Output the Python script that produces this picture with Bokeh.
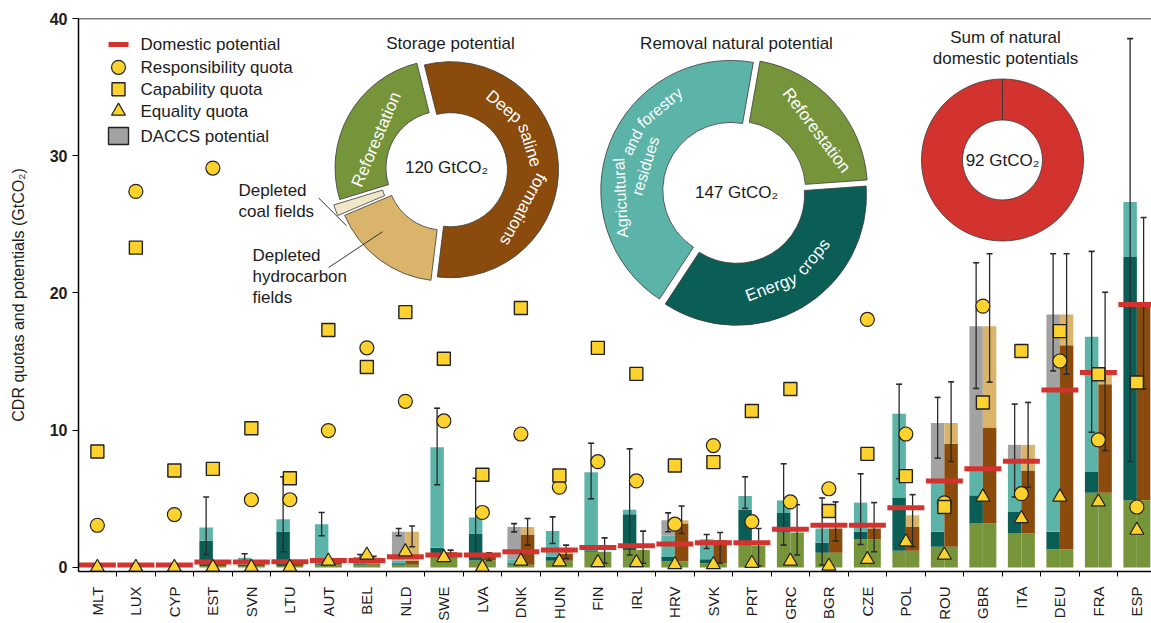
import math
import numpy as np
import pandas as pd
from bokeh.plotting import figure
from bokeh.models import ColumnDataSource, Range1d, FixedTicker, Span
from bokeh.core.properties import value
from bokeh.embed import file_html
from bokeh.resources import INLINE

nan = float("nan")

# ---------------- data ----------------
countries = ["MLT", "LUX", "CYP", "EST", "SVN", "LTU", "AUT", "BEL", "NLD", "SWE", "LVA", "DNK", "HUN", "FIN",
             "IRL", "HRV", "SVK", "PRT", "GRC", "BGR", "CZE", "POL", "ROU", "GBR", "ITA", "DEU", "FRA", "ESP"]

# removal bar (stacked)
reforestation = [0, 0, 0, 0.1, 0.1, 0.1, 0.2, 0.2, 0.2, 1.0, 0.5, 0.2, 0.49, 1.14, 1.26, 0.45, 0.3, 1.6, 2.54,
                 1.07, 2.05, 1.21, 1.5, 3.19, 2.47, 1.33, 5.44, 4.89]
energy_crops = [0, 0, 0, 1.85, 0.1, 2.5, 0.1, 0.1, 0.1, 0.43, 1.97, 0.1, 0.28, 0.1, 2.61, 0.3, 0.3, 2.6, 1.43,
                0.72, 0.54, 3.85, 1.09, 2.06, 1.57, 1.26, 1.55, 17.73]
residues = [0, 0, 0, 0.95, 0.5, 0.9, 2.84, 0.45, 0.2, 7.33, 1.16, 0.3, 1.89, 5.7, 0.33, 1.55, 1.45, 1.0, 0.91,
            1.04, 2.13, 6.14, 3.7, 1.93, 3.7, 10.33, 9.82, 4.01]
daccs = [0, 0, 0, 0, 0, 0, 0, 0, 2.1, 0, 0, 2.35, 0, 0, 0, 1.13, 0, 0, 0, 0, 0, 0, 4.23, 10.4, 1.19, 5.51, 0, 0]
# storage bar (stacked on top of reforestation)
saline = [0, 0, 0, 0.3, 0.3, 0.3, 0.35, 0.1, 0.3, 0.1, 0.3, 2.2, 0.5, 0, 0, 2.75, 1.68, 0, 0, 1.76, 0.78, 1.74,
          7.5, 7.01, 4.59, 14.85, 7.91, 14.27]
hydrocarbon = [0, 0, 0, 0, 0, 0, 0, 0.4, 2.1, 0, 0, 0.55, 0.3, 0, 0, 0.23, 0, 0, 0, 0, 0, 0.85, 1.52, 7.38, 1.87,
               2.25, 0.73, 0]

removal_err_low = [nan, nan, nan, 0.94, 0.5, 1.14, 2.3, 0.5, 2.3, 6.02, 1.0, 2.59, 1.74, 5.0, 0.9, 2.6, 1.38, 4.3,
                   1.62, 0.17, 1.67, 6.46, 7.96, 13.04, 5.13, 14.32, 9.85, 7.72]
removal_err_high = [nan, nan, nan, 5.13, 0.99, 6.6, 4.0, 0.94, 2.83, 11.6, 6.5, 3.19, 3.68, 9.05, 8.64, 3.97, 2.4,
                    6.6, 7.55, 5.06, 6.82, 13.35, 12.39, 22.2, 11.9, 22.86, 23.03, 38.53]
storage_err_low = [nan, nan, nan, nan, nan, nan, nan, 0.4, 1.5, 0.8, 0.5, 1.62, 0.65, 0.3, 0.3, 2.47, 0.3, 0.1,
                   0.9, 1.93, 1.14, 1.5, 7.72, 13.5, 5.85, 14.08, 8.51, 13.0]
storage_err_high = [nan, nan, nan, nan, nan, nan, nan, 0.8, 3.02, 1.26, 1.07, 3.56, 1.62, 2.15, 2.64, 4.47, 2.54,
                    2.83, 4.57, 4.77, 4.72, 5.3, 13.52, 22.86, 12.02, 22.86, 20.05, 25.5]

domestic = [0.17, 0.17, 0.17, 0.4, 0.4, 0.41, 0.5, 0.5, 0.77, 0.9, 0.9, 1.14, 1.26, 1.45, 1.57, 1.7, 1.8, 1.8,
            2.78, 3.07, 3.07, 4.35, 6.29, 7.18, 7.74, 12.92, 14.2, 19.16]
responsibility = [3.07, 27.4, 3.85, 29.1, 4.93, 4.93, 9.97, 16.0, 12.1, 10.67, 4.0, 9.72, 5.85, 7.7, 6.3, 3.15,
                  8.88, 3.33, 4.77, 5.73, 18.07, 9.72, 4.7, 19.04, 5.37, 15.04, 9.29, 4.4]
capability = [8.44, 23.3, 7.06, 7.18, 10.14, 6.5, 17.3, 14.6, 18.6, 15.2, 6.75, 18.9, 6.7, 16.0, 14.1, 7.43, 7.67,
              11.4, 13.0, 4.11, 8.27, 6.65, 4.4, 12.02, 15.77, 17.22, 14.08, 13.47]
equality = [0, 0, 0, 0, 0, 0, 0.46, 0.9, 1.14, 0.72, 0, 0.46, 0.41, 0.35, 0.35, 0.2, 0.2, 0.3, 0.46, 0.1, 0.58,
            1.86, 0.9, 5.13, 3.56, 5.13, 4.77, 2.71]

storage_slices = ["Deep saline formations", "Depleted hydrocarbon fields", "Depleted coal fields", "Reforestation"]
storage_values = [67, 20, 2, 31]
storage_total = 120
removal_slices = ["Reforestation", "Energy crops", "Agricultural and forestry residues"]
removal_values = [31, 52, 64]
removal_total = 147
domestic_total = [92]

legend_labels = ["Domestic potential", "Responsibility quota", "Capability quota", "Equality quota",
                 "DACCS potential"]

# ---------------- styles ----------------
GREEN = "#76953b"
DTEAL = "#0b5e55"
LTEAL = "#5cb3a8"
GREY = "#a2a2a2"
BROWN = "#8a4b0d"
TAN = "#d9b46a"
COAL = "#f0e7c8"
RED = "#d3332f"
YELLOW = "#fdd22c"
INK = "#1c1c1c"
EDGE = "#222222"
FONT = "Liberation Sans"

W, H = 1151, 623
LEFT, TOP, BOTTOM = 78, 18, 50
FW, FH = W - LEFT, H - TOP - BOTTOM
X0, X1 = -0.49, 27.38
Y0, Y1 = -0.3, 40.0
XS = FW / (X1 - X0)
YS = FH / (Y1 - Y0)


def dx(px):
    return X0 + (px - LEFT) / XS


def dy(py):
    return Y1 - (py - TOP) / YS


p = figure(width=W, height=H, x_range=Range1d(X0, X1), y_range=Range1d(Y0, Y1),
           output_backend="svg", toolbar_location=None,
           min_border_left=LEFT, min_border_right=0, min_border_top=TOP, min_border_bottom=BOTTOM)
p.outline_line_color = None
p.grid.visible = False

n = len(countries)
p.xaxis.ticker = FixedTicker(ticks=list(range(n)), minor_ticks=[i + 0.5 for i in range(n - 1)])
p.xaxis.major_label_overrides = {i: c for i, c in enumerate(countries)}
p.xaxis.major_label_orientation = math.pi / 2
p.xaxis.major_tick_line_color = None
p.xaxis.major_tick_out = 0
p.xaxis.minor_tick_out = 5
p.xaxis.minor_tick_in = 0
p.xaxis.minor_tick_line_color = "black"
p.xaxis.axis_line_width = 1.5
p.xaxis.major_label_standoff = 10
p.xaxis.major_label_text_font = FONT
p.xaxis.major_label_text_font_size = "15px"
p.xaxis.major_label_text_color = INK

p.yaxis.ticker = FixedTicker(ticks=[0, 10, 20, 30, 40])
p.yaxis.major_tick_out = 6
p.yaxis.major_tick_in = 0
p.yaxis.minor_tick_line_color = None
p.yaxis.axis_line_width = 1.5
p.yaxis.major_label_text_font = FONT
p.yaxis.major_label_text_font_size = "16px"
p.yaxis.major_label_text_font_style = "bold"
p.yaxis.major_label_text_color = INK
p.yaxis.axis_label = "CDR quotas and potentials (GtCO₂)"
p.yaxis.axis_label_text_font = FONT
p.yaxis.axis_label_text_font_style = "normal"
p.yaxis.axis_label_text_font_size = "16px"
p.yaxis.axis_label_text_color = INK
p.yaxis.axis_label_standoff = 20

p.add_layout(Span(location=Y1, dimension="width", line_color="black", line_width=1.5))

# ---------------- bars ----------------
df = pd.DataFrame(dict(country=countries, reforestation=reforestation, energy_crops=energy_crops,
                       residues=residues, daccs=daccs, saline=saline, hydrocarbon=hydrocarbon,
                       rlo=removal_err_low, rhi=removal_err_high, slo=storage_err_low, shi=storage_err_high,
                       domestic=domestic, responsibility=responsibility, capability=capability,
                       equality=equality))
df["idx"] = np.arange(n, dtype=float)
df["xl"] = df["idx"] - 0.175
df["xr"] = df["idx"] + 0.175
df["d0"] = df["idx"] - 0.48
df["d1"] = df["idx"] + 0.48
src = ColumnDataSource(df)

p.vbar_stack(["reforestation", "energy_crops", "residues", "daccs"], x="xl", width=0.35,
             fill_color=[GREEN, DTEAL, LTEAL, GREY], line_color=None, source=src)
p.vbar_stack(["reforestation", "saline", "hydrocarbon"], x="xr", width=0.35,
             fill_color=[GREEN, BROWN, TAN], line_color=None, source=src)

for xc, lo, hi in (("xl", "rlo", "rhi"), ("xr", "slo", "shi")):
    p.segment(x0=xc, y0=lo, x1=xc, y1=hi, source=src, line_color="#2a2a2a", line_width=1.3)
    p.scatter(x=xc, y=lo, marker="dash", size=6, line_color="#2a2a2a", line_width=1.6, source=src)
    p.scatter(x=xc, y=hi, marker="dash", size=6, line_color="#2a2a2a", line_width=1.6, source=src)

p.segment(x0="d0", y0="domestic", x1="d1", y1="domestic", source=src, line_color=RED, line_width=5)

p.scatter("idx", "responsibility", marker="circle", size=14, fill_color=YELLOW, line_color=EDGE,
          line_width=1.2, source=src)
p.scatter("idx", "capability", marker="square", size=13, fill_color=YELLOW, line_color=EDGE,
          line_width=1.4, source=src)
p.scatter("idx", "equality", marker="triangle", size=14, fill_color=YELLOW, line_color=EDGE,
          line_width=1.2, source=src)

# ---------------- legend (drawn manually) ----------------
leg_rows = [44, 67, 89, 111, 136]
gx = 118
p.segment(x0=[dx(108)], y0=[dy(leg_rows[0])], x1=[dx(128)], y1=[dy(leg_rows[0])], line_color=RED, line_width=5)
p.scatter([dx(gx)], [dy(leg_rows[1])], marker="circle", size=14, fill_color=YELLOW, line_color=EDGE, line_width=1.2)
p.scatter([dx(gx)], [dy(leg_rows[2])], marker="square", size=13, fill_color=YELLOW, line_color=EDGE, line_width=1.4)
p.scatter([dx(gx)], [dy(leg_rows[3])], marker="triangle", size=14, fill_color=YELLOW, line_color=EDGE,
          line_width=1.2)
p.rect([dx(gx)], [dy(leg_rows[4])], width=20, height=17, width_units="screen", height_units="screen",
       fill_color=GREY, line_color=EDGE, line_width=1.4)
p.text([dx(140)] * 5, [dy(r) for r in leg_rows], text=legend_labels, text_font=value(FONT),
       text_font_size="17px", text_color=INK, text_align="left", text_baseline="middle")

# ---------------- donuts ----------------
CW = {" ": 278, "A": 667, "D": 722, "E": 667, "R": 722, "G": 778, "S": 667, "C": 722,
      "a": 556, "b": 556, "c": 500, "d": 556, "e": 556, "f": 278, "g": 556, "h": 556, "i": 222, "l": 222,
      "m": 833, "n": 556, "o": 556, "p": 556, "r": 333, "s": 500, "t": 278, "u": 556, "y": 500}


def tw(s, fs):
    return sum(CW.get(c, 556) for c in s) * fs / 1000.0


def donut(values, total, colors, cx, cy, r_in, r_out, start_deg, explode):
    per = 360.0 / total
    cum = np.concatenate([[0.0], np.cumsum(values)])
    starts = start_deg - cum[:-1] * per
    ends = start_deg - cum[1:] * per
    if len(values) == 1:
        ends = starts - 359.9
    mids = np.radians((starts + ends) / 2)
    xs = [dx(cx + e * math.cos(m)) for e, m in zip(explode, mids)]
    ys = [dy(cy - e * math.sin(m)) for e, m in zip(explode, mids)]
    p.annular_wedge(x=xs, y=ys, inner_radius=r_in, outer_radius=r_out,
                    inner_radius_units="screen", outer_radius_units="screen",
                    start_angle=list(np.radians(starts)), end_angle=list(np.radians(ends)),
                    direction="clock", fill_color=colors, line_color="#3a3a3a", line_width=0.8)


def arc_text(line, fs, cx, cy, r, mid_deg, clockwise, color="white"):
    words = line.split(" ")
    total = tw(line, fs)
    mid = math.radians(mid_deg)
    xs, ys, angs = [], [], []
    pos = 0.0
    for w in words:
        ww = tw(w, fs)
        frac = pos + ww / 2 - total / 2
        if clockwise:
            th = mid - frac / r
            rot = th - math.pi / 2
        else:
            th = mid + frac / r
            rot = th + math.pi / 2
        xs.append(dx(cx + r * math.cos(th)))
        ys.append(dy(cy - r * math.sin(th)))
        angs.append(rot)
        pos += ww + tw(" ", fs)
    p.text(xs, ys, text=words, angle=angs, text_font=value(FONT), text_font_size=f"{fs}px",
           text_color=color, text_align="center", text_baseline="middle")


def label(px, py, txt, size="17px", align="center", color=INK):
    p.text([dx(px)], [dy(py)], text=[txt], text_font=value(FONT), text_font_size=size, text_color=color,
           text_align=align, text_baseline="middle")


# storage donut
SCX, SCY = 446, 170
donut(storage_values, storage_total, [BROWN, TAN, COAL, GREEN], SCX, SCY, 57, 108, 104, [4, 4, 10, 4])
arc_text(storage_slices[0], 17, SCX + 4, SCY, 83, 4, True)
arc_text(storage_slices[3], 17, SCX - 3, SCY - 2, 73, 157, True)
label(SCX, SCY - 2, f"{storage_total} GtCO₂")
label(450, 43, "Storage potential")
label(238, 191, "Depleted", align="left")
label(238, 212, "coal fields", align="left")
label(252, 256, "Depleted", align="left")
label(252, 277, "hydrocarbon", align="left")
label(252, 298, "fields", align="left")
p.line([dx(318), dx(346)], [dy(198), dy(226)], line_color="#333333", line_width=1)
p.line([dx(328), dx(382)], [dy(268), dy(232)], line_color="#333333", line_width=1)

# removal donut
RCX, RCY = 734, 192
donut(removal_values, removal_total, [GREEN, DTEAL, LTEAL], RCX, RCY, 68, 130, 80, [4, 4, 4])
arc_text(removal_slices[0], 17, RCX + 3, RCY - 2, 99, 37, True)
arc_text(removal_slices[1], 17, RCX + 2, RCY + 3, 99, -56, False)
arc_text("Agricultural and forestry", 16, RCX - 4, RCY, 110, 160, True)
arc_text("residues", 16, RCX - 4, RCY, 89, 163, True)
label(RCX + 2, RCY + 1, f"{removal_total} GtCO₂")
label(736, 43, "Removal natural potential")

# sum donut
DCX, DCY = 1002, 160
donut(domestic_total, domestic_total[0], [RED], DCX, DCY, 40, 81, 90, [0])
label(DCX, DCY + 1, f"{domestic_total[0]} GtCO₂")
label(1005, 37, "Sum of natural")
label(1005, 58, "domestic potentials")

open("out.html", "w").write(file_html(p, INLINE))
